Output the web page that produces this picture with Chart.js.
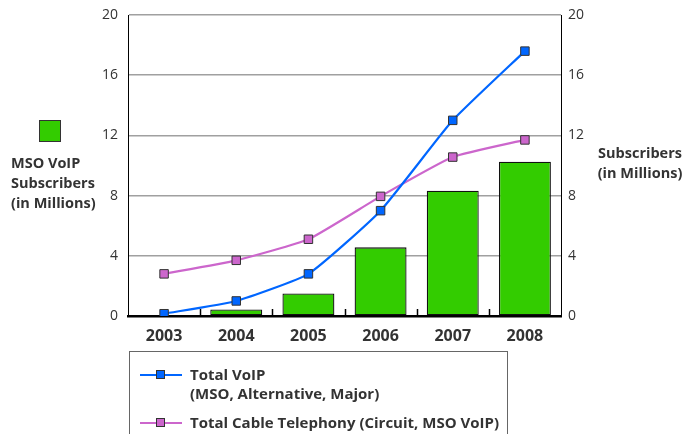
<!DOCTYPE html>
<html>
<head>
<meta charset="utf-8">
<script src="https://cdn.jsdelivr.net/npm/chart.js@4.4.0/dist/chart.umd.min.js"></script>
<style>
  html, body { margin: 0; padding: 0; background: #fff; }
  #wrap { position: relative; width: 686px; height: 434px; overflow: hidden; font-family: "Open Sans", sans-serif; color: #333; }
  #chart { position: absolute; left: 0; top: 0; }
  .side { position: absolute; font-size: 14.5px; font-weight: bold; line-height: 20px; }
  #leftKey { left: 11px; top: 153px; width: 112px; }
  #leftSwatch { position: absolute; left: 39px; top: 120px; width: 22px; height: 22px; background: #33cc00; border: 1px solid #333; box-sizing: border-box; }
  #rightKey { left: 590px; top: 143px; width: 100px; text-align: center; }
  #legend { position: absolute; left: 129px; top: 351px; width: 379px; height: 100px; border: 1px solid #666; box-sizing: border-box; }
  .item { position: absolute; left: 10px; font-size: 15px; font-weight: bold; line-height: 19px; }
  .item .sym { position: absolute; left: 0; top: 9px; width: 42px; height: 2px; }
  .item .sym i { position: absolute; left: 16px; top: -4px; width: 9px; height: 9px; border: 1px solid #333; box-sizing: border-box; }
  .item span { display: block; margin-left: 50px; white-space: nowrap; }
</style>
</head>
<body>
<div id="wrap">
  <canvas id="chart" width="686" height="434"></canvas>
  <div id="leftSwatch"></div>
  <div id="leftKey" class="side">MSO VoIP<br>Subscribers<br>(in Millions)</div>
  <div id="rightKey" class="side">Subscribers<br>(in Millions)</div>
  <div id="legend"></div>
</div>
<script>
const years = ['2003', '2004', '2005', '2006', '2007', '2008'];
const msoVoip = [0.05, 0.44, 1.5, 4.56, 8.33, 10.25];
const totalVoip = [0.15, 1.0, 2.8, 7.0, 13.0, 17.6];
const cableTelephony = [2.8, 3.7, 5.1, 7.95, 10.56, 11.7];
const axisTicks = [0, 4, 8, 12, 16, 20];

const blue = '#0066ff';
const pink = '#cc66cc';
const green = '#33cc00';

// small marks between the year slots, pointing up into the plot
const boundaryTicks = {
  id: 'boundaryTicks',
  afterDatasetsDraw(chart) {
    const x = chart.scales.x;
    const ctx = chart.ctx;
    const bottom = chart.chartArea.bottom;
    ctx.save();
    ctx.strokeStyle = '#000';
    ctx.lineWidth = 1.5;
    for (let i = 1; i < years.length; i++) {
      const px = Math.round((x.getPixelForTick(i - 1) + x.getPixelForTick(i)) / 2) + 0.5;
      ctx.beginPath();
      ctx.moveTo(px, bottom);
      ctx.lineTo(px, bottom - 7);
      ctx.stroke();
    }
    ctx.restore();
  }
};

const yScale = (position) => ({
  position: position,
  min: 0,
  max: 20,
  afterBuildTicks: (s) => { s.ticks = axisTicks.map(v => ({ value: v })); },
  afterFit: (s) => { s.width = 30; s.paddingTop = 0; s.paddingBottom = 0; },
  border: { color: '#000', width: 1 },
  grid: { display: position === 'left', color: '#a0a0a0', lineWidth: 1.5, drawTicks: false },
  ticks: { color: '#333', padding: position === 'left' ? 10 : 7, font: { family: 'Open Sans', size: 14 } }
});

new Chart(document.getElementById('chart'), {
  data: {
    labels: years,
    datasets: [
      {
        type: 'line', label: 'Total VoIP|(MSO, Alternative, Major)', data: totalVoip,
        borderColor: blue, backgroundColor: blue, borderWidth: 2.2, tension: 0.15,
        pointStyle: 'rect', pointRadius: 6, pointBorderColor: '#333', pointBorderWidth: 1, yAxisID: 'y1', order: 0
      },
      {
        type: 'line', label: 'Total Cable Telephony (Circuit, MSO VoIP)', data: cableTelephony,
        borderColor: pink, backgroundColor: pink, borderWidth: 2.2, tension: 0.15,
        pointStyle: 'rect', pointRadius: 6, pointBorderColor: '#333', pointBorderWidth: 1, yAxisID: 'y1', order: 1
      },
      {
        type: 'bar', label: 'MSO VoIP Subscribers', data: msoVoip,
        backgroundColor: green, borderColor: '#111', borderWidth: 1.3, borderSkipped: false,
        barPercentage: 0.72, categoryPercentage: 1, yAxisID: 'y', order: 2
      }
    ]
  },
  options: {
    responsive: false,
    animation: false,
    layout: { padding: { left: 98, right: 95, top: 15, bottom: 88 } },
    plugins: { legend: { display: false }, tooltip: { enabled: false } },
    scales: {
      x: {
        afterFit: (s) => { s.height = 30; },
        border: { color: '#000', width: 2.5 },
        grid: { display: false },
        ticks: { color: '#333', padding: 3, font: { family: 'Open Sans', size: 16, weight: 'bold' } }
      },
      y: yScale('left'),
      y1: yScale('right')
    }
  },
  plugins: [boundaryTicks]
});

// legend box below the plot
const legend = document.getElementById('legend');
[[blue, 'Total VoIP|(MSO, Alternative, Major)', 13], [pink, 'Total Cable Telephony (Circuit, MSO VoIP)', 61]].forEach(([color, text, top]) => {
  const item = document.createElement('div');
  item.className = 'item';
  item.style.top = top + 'px';
  item.innerHTML = '<div class="sym" style="background:' + color + '"><i style="background:' + color + '"></i></div>' +
    text.split('|').map(t => '<span>' + t + '</span>').join('');
  legend.appendChild(item);
});
</script>
</body>
</html>
